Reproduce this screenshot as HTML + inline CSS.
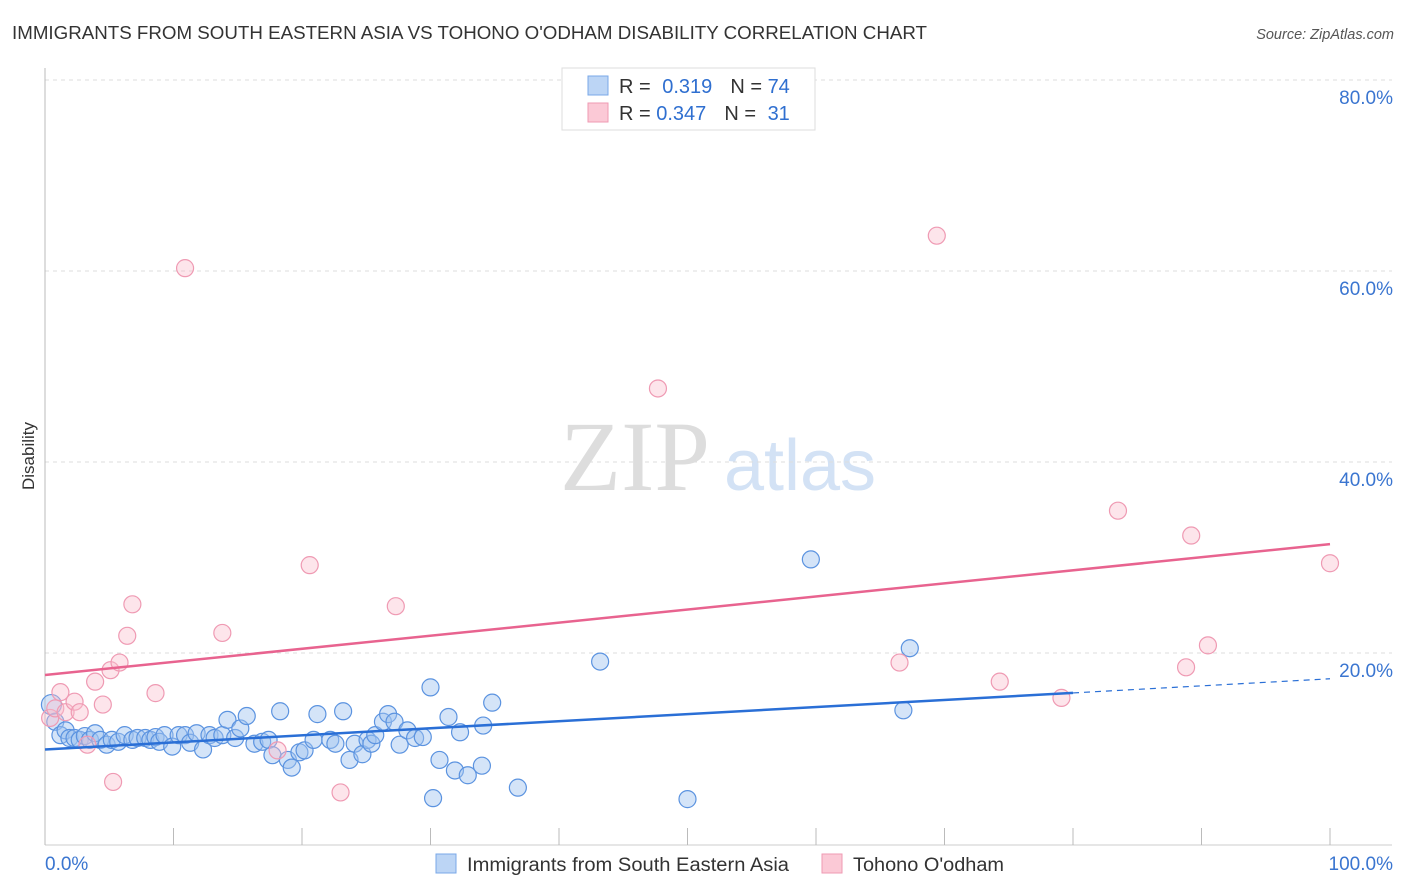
<!DOCTYPE html>
<html><head><meta charset="utf-8"><style>
body{margin:0;background:#fff;font-family:"Liberation Sans",sans-serif;}
svg{display:block}
</style></head><body>
<svg id="chart" width="1406" height="892" xmlns="http://www.w3.org/2000/svg">
<text x="12" y="39" font-size="18" fill="#333" textLength="915" lengthAdjust="spacingAndGlyphs">IMMIGRANTS FROM SOUTH EASTERN ASIA VS TOHONO O'ODHAM DISABILITY CORRELATION CHART</text>
<text x="1394" y="39" font-size="14.5" fill="#555" font-style="italic" text-anchor="end">Source: ZipAtlas.com</text>
<g>
<text x="635" y="490" font-size="100" fill="#ddd" font-family="Liberation Serif,serif" text-anchor="middle">ZIP</text>
<text x="800" y="490" font-size="72" fill="#d3e2f5" text-anchor="middle">atlas</text>
</g>
<g id="grid"></g>
<g id="axes"></g>
<g id="marks"></g>
<g>
<rect x="562" y="68" width="253" height="62" fill="#fff" stroke="#ddd"/>
<rect x="588" y="76" width="20" height="19" fill="#bcd5f5" stroke="#7aa8e8"/>
<rect x="588" y="103" width="20" height="19" fill="#fbc9d6" stroke="#ef9ab3"/>
<text x="619" y="93" font-size="20" fill="#333">R = <tspan fill="#2f6fd0" dx="6">0.319</tspan><tspan dx="18">N = </tspan><tspan fill="#2f6fd0">74</tspan></text>
<text x="619" y="120" font-size="20" fill="#333">R = <tspan fill="#2f6fd0">0.347</tspan><tspan dx="18">N = </tspan><tspan fill="#2f6fd0" dx="6">31</tspan></text>
</g>
<g>
<rect x="436" y="854" width="20" height="19" fill="#bcd5f5" stroke="#7aa8e8"/>
<text x="467" y="871" font-size="19" fill="#333" textLength="322" lengthAdjust="spacingAndGlyphs">Immigrants from South Eastern Asia</text>
<rect x="822" y="854" width="20" height="19" fill="#fbc9d6" stroke="#ef9ab3"/>
<text x="853" y="871" font-size="19" fill="#333" textLength="151" lengthAdjust="spacingAndGlyphs">Tohono O'odham</text>
</g>
<text transform="translate(34,456) rotate(-90)" font-size="17" fill="#333" text-anchor="middle">Disability</text>
</svg>
<script>
const blueX=[0.5,0.8,1.2,1.6,1.9,2.3,2.7,3.1,3.5,3.9,4.3,4.8,5.2,5.7,6.2,6.8,7.2,7.8,8.2,8.6,8.9,9.3,9.9,10.4,10.9,11.3,11.8,12.3,12.8,13.2,13.8,14.2,14.8,15.2,15.7,16.3,16.9,17.4,17.7,18.3,18.9,19.2,19.8,20.2,20.9,21.2,22.2,22.6,23.2,23.7,24.1,24.7,25.1,25.4,25.7,26.3,26.7,27.2,27.6,28.2,28.8,29.4,30.0,30.2,30.7,31.4,31.9,32.3,32.9,34.0,34.1,34.8,36.8,43.2,50.0,59.6,66.8,67.3];
const blueY=[14.6,12.8,11.4,11.9,11.1,11.1,10.9,11.3,10.9,11.6,10.9,10.4,10.9,10.7,11.4,10.9,11.1,11.1,10.9,11.2,10.7,11.4,10.2,11.4,11.4,10.6,11.6,9.9,11.4,11.1,11.4,13.0,11.1,12.1,13.4,10.5,10.7,10.9,9.3,13.9,8.8,8.0,9.6,9.8,10.9,13.6,10.9,10.5,13.9,8.8,10.5,9.4,10.9,10.5,11.4,12.8,13.6,12.8,10.4,11.9,11.1,11.2,16.4,4.8,8.8,13.3,7.7,11.7,7.2,8.2,12.4,14.8,5.9,19.1,4.7,29.8,14.0,20.5];
const pinkX=[0.4,0.8,1.2,1.6,2.3,2.7,3.3,3.9,4.5,5.1,5.3,5.8,6.4,6.8,8.6,10.9,13.8,18.1,20.6,23.0,27.3,47.7,66.5,69.4,74.3,79.1,83.5,88.8,89.2,90.5,100];
const pinkY=[13.2,14.2,15.9,13.8,14.9,13.8,10.4,17.0,14.6,18.2,6.5,19.0,21.8,25.1,15.8,60.3,22.1,9.8,29.2,5.4,24.9,47.7,19.0,63.7,17.0,15.3,34.9,18.5,32.3,20.8,29.4];
const blueTrend=[9.9,17.3];
const pinkTrend=[17.7,31.4];
const yTicks=[20,40,60,80];
const xTickLabels=["0.0%","100.0%"];
const NS="http://www.w3.org/2000/svg";
const sx=v=>45+v*12.85, sy=v=>844-v*9.55;
function mk(tag,attrs,parent){const e=document.createElementNS(NS,tag);for(const k in attrs)e.setAttribute(k,attrs[k]);parent.appendChild(e);return e;}
const grid=document.getElementById('grid'),axes=document.getElementById('axes'),marks=document.getElementById('marks');
yTicks.forEach(t=>{
 const l=mk('line',{x1:45,x2:1392,y1:sy(t),y2:sy(t),stroke:'#ddd','stroke-dasharray':'4,4'},grid);
 
 
 const tx=mk('text',{x:1393,y:sy(t)+24,'font-size':19,fill:'#3a75d0','text-anchor':'end'},axes);
 tx.textContent=t.toFixed(1)+'%';
 
 
});
const ax=mk('line',{x1:45,x2:45,y1:68,y2:845,stroke:'#bbb'},axes);


const bx=mk('line',{x1:45,x2:1392,y1:845,y2:845,stroke:'#ccc'},axes);


for(let i=0;i<=10;i++){
 const t=mk('line',{x1:sx(i*10),x2:sx(i*10),y1:828,y2:845,stroke:'#bbb'},axes);
 
 
}
[[0,'start'],[100,'end']].forEach((p,i)=>{
 const tx=mk('text',{x:p[0]==0?45:1393,y:870,'font-size':19,fill:'#3a75d0','text-anchor':p[1]},axes);
 tx.textContent=xTickLabels[i];
 
 
});
blueX.forEach((x,i)=>{
 const c=mk('circle',{cx:sx(x),cy:sy(blueY[i]),r:i==0?10:8.5,fill:'rgba(160,196,240,0.45)',stroke:'#5b93e0','stroke-width':1.2},marks);
 
 
});
pinkX.forEach((x,i)=>{
 const c=mk('circle',{cx:sx(x),cy:sy(pinkY[i]),r:8.5,fill:'rgba(250,190,205,0.4)',stroke:'#ef9ab3','stroke-width':1.2},marks);
 
 
});
const bAt=x=>blueTrend[0]+(blueTrend[1]-blueTrend[0])*x/100;
let l1=mk('line',{x1:sx(0),y1:sy(bAt(0)),x2:sx(80),y2:sy(bAt(80)),stroke:'#2a6fd6','stroke-width':2.5},marks);


let l2=mk('line',{x1:sx(80),y1:sy(bAt(80)),x2:sx(100),y2:sy(bAt(100)),stroke:'#2a6fd6','stroke-width':1.2,'stroke-dasharray':'6,5'},marks);


let l3=mk('line',{x1:sx(0),y1:sy(pinkTrend[0]),x2:sx(100),y2:sy(pinkTrend[1]),stroke:'#e8638f','stroke-width':2.5},marks);


</script>
</body></html>
